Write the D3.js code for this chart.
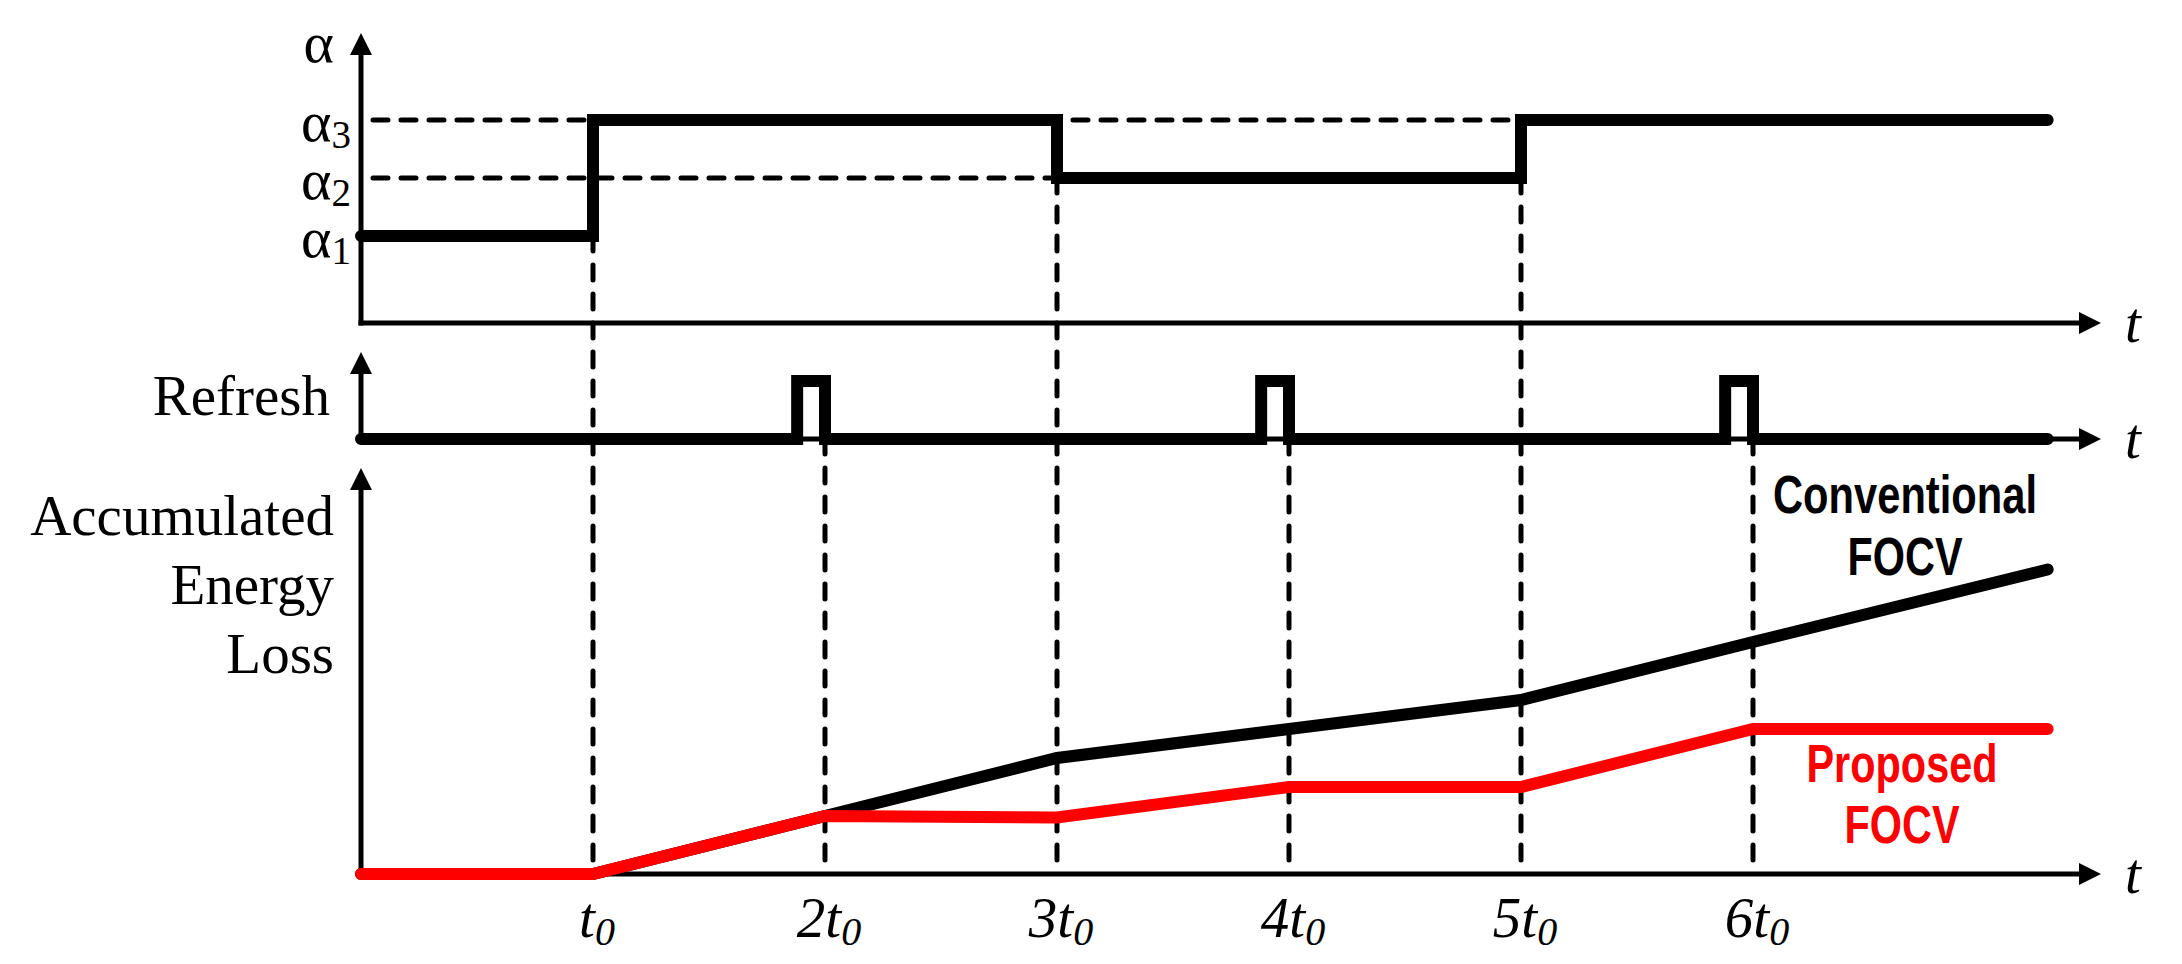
<!DOCTYPE html>
<html><head><meta charset="utf-8">
<script src="https://cdn.jsdelivr.net/npm/d3@7"></script>
<style>html,body{margin:0;padding:0;background:#fff;} svg{display:block;}</style>
</head><body>
<script>
// ---- data ----
const timeTicks = [1, 2, 3, 4, 5, 6];
const timeTickPrefix = ["", "2", "3", "4", "5", "6"];
const alphaTimes = [0, 1, 3, 5];
const alphaValues = [1.5, 3.5, 2.5, 3.5];
const signalEnd = 7.27;
const alphaLevelNames = ["1", "2", "3"];
const alphaLevels = [1.5, 2.5, 3.5];
const refreshStarts = [1.88, 3.88, 5.88];
const refreshEnds = [2.0, 4.0, 6.0];
const energyTimes = [0, 1, 2, 3, 4, 5, 6, 7.27];
const conventional = [0, 0, 2, 4, 5, 6, 8, 10.5];
const proposed = [0, 0, 2, 1.95, 3, 3, 5, 5];
const energyLabel = ["Accumulated", "Energy", "Loss"];

// ---- layout ----
const W = 2182, H = 964;
const SERIF = "'Times New Roman','Liberation Serif',serif";
const SANS = "'Liberation Sans Narrow','Arial Narrow','Liberation Sans',Arial,sans-serif";
const svg = d3.select("body").append("svg").attr("width", W).attr("height", H);
svg.append("rect").attr("width", W).attr("height", H).attr("fill", "#fff");

const x = d3.scaleLinear().domain([0, 7.5]).range([361, 2101]);
const yA = d3.scaleLinear().domain([0, 5]).range([323, 33]);
const yR = d3.scaleLinear().domain([0, 1.5]).range([439, 352]);
const yE = d3.scaleLinear().domain([0, 14]).range([874, 468]);
const AH = 22; // arrow head size
const AX = 5, THICK = 12, DASH = 5;

const gGuides = svg.append("g");
const gAxes = svg.append("g");
const gSig = svg.append("g");
const gText = svg.append("g");

// ---- dashed guides ----
function alphaAt(t) {
  let v = alphaValues[0];
  alphaTimes.forEach((tt, i) => { if (t >= tt) v = alphaValues[i]; });
  return v;
}
timeTicks.forEach(t => {
  let top;
  if (refreshEnds.some(e => Math.abs(e - t) < 1e-6)) top = yR(0);
  else top = yA(Math.min(alphaAt(t - 1e-3), alphaAt(t + 1e-3)));
  gGuides.append("line")
    .attr("x1", x(t)).attr("x2", x(t)).attr("y1", top).attr("y2", yE(0))
    .attr("stroke", "#000").attr("stroke-width", DASH)
    .attr("stroke-dasharray", "15,14").attr("stroke-linecap", "round");
});
const lastStep = alphaTimes[alphaTimes.length - 1];
alphaLevels.filter(v => v !== alphaValues[0]).forEach(v => {
  gGuides.append("line")
    .attr("x1", x(0) + 12).attr("x2", x(lastStep)).attr("y1", yA(v)).attr("y2", yA(v))
    .attr("stroke", "#000").attr("stroke-width", DASH)
    .attr("stroke-dasharray", "15,13").attr("stroke-linecap", "round");
});

// ---- axes with arrows ----
function axisPair(yScale, yTopVal) {
  const y0 = yScale(0), yTop = yScale(yTopVal), x0 = x(0), xEnd = x(7.5);
  gAxes.append("line").attr("x1", x0).attr("x2", x0).attr("y1", y0 + AX / 2).attr("y2", yTop + AH - 2)
    .attr("stroke", "#000").attr("stroke-width", AX);
  gAxes.append("path").attr("d", `M${x0},${yTop} L${x0 - AH / 2},${yTop + AH} L${x0 + AH / 2},${yTop + AH} Z`).attr("fill", "#000");
  gAxes.append("line").attr("x1", x0 - AX / 2).attr("x2", xEnd - AH + 2).attr("y1", y0).attr("y2", y0)
    .attr("stroke", "#000").attr("stroke-width", AX);
  gAxes.append("path").attr("d", `M${xEnd},${y0} L${xEnd - AH},${y0 - AH / 2} L${xEnd - AH},${y0 + AH / 2} Z`).attr("fill", "#000");
  gText.append("text").attr("x", xEnd + 24).attr("y", y0 + 19)
    .attr("font-family", SERIF).attr("font-style", "italic").attr("font-size", 57).text("t");
}
axisPair(yA, 5);
axisPair(yR, 1.5);
axisPair(yE, 14);

// ---- alpha step signal ----
const alphaPts = alphaTimes.map((t, i) => [t, alphaValues[i]]).concat([[signalEnd, alphaValues[alphaValues.length - 1]]]);
gSig.append("path")
  .attr("d", d3.line().x(d => x(d[0])).y(d => yA(d[1])).curve(d3.curveStepAfter)(alphaPts))
  .attr("fill", "none").attr("stroke", "#000").attr("stroke-width", THICK)
  .attr("stroke-linecap", "round").attr("stroke-linejoin", "miter");

// ---- refresh pulses ----
let rPts = [[0, 0]];
refreshStarts.forEach((s, i) => { rPts.push([s, 0], [s, 1], [refreshEnds[i], 1], [refreshEnds[i], 0]); });
rPts.push([signalEnd, 0]);
gSig.append("path")
  .attr("d", d3.line().x(d => x(d[0])).y(d => yR(d[1]))(rPts))
  .attr("fill", "none").attr("stroke", "#000").attr("stroke-width", THICK)
  .attr("stroke-linecap", "round").attr("stroke-linejoin", "miter");

// ---- energy lines ----
const eLine = d3.line().x(d => x(d[0])).y(d => yE(d[1]));
gSig.append("path").attr("d", eLine(energyTimes.map((t, i) => [t, conventional[i]])))
  .attr("fill", "none").attr("stroke", "#000").attr("stroke-width", THICK)
  .attr("stroke-linecap", "round").attr("stroke-linejoin", "miter");
gSig.append("path").attr("d", eLine(energyTimes.map((t, i) => [t, proposed[i]])))
  .attr("fill", "none").attr("stroke", "#ff0000").attr("stroke-width", THICK)
  .attr("stroke-linecap", "round").attr("stroke-linejoin", "miter");

// ---- labels ----
// alpha axis title
gText.append("text").attr("x", x(0) - 27).attr("y", yA(5) + 29).attr("text-anchor", "end")
  .attr("font-family", SERIF).attr("font-size", 58).text("α");
alphaLevels.forEach((v, i) => {
  const t = gText.append("text").attr("x", x(0) - 10).attr("y", yA(v) + 21).attr("text-anchor", "end")
    .attr("font-family", SERIF).attr("font-size", 58);
  t.append("tspan").text("α");
  t.append("tspan").attr("font-size", 39).attr("dy", 7).text(alphaLevelNames[i]);
});
gText.append("text").attr("x", x(0) - 31).attr("y", yR(0) - 24).attr("text-anchor", "end")
  .attr("font-family", SERIF).attr("font-size", 57).text("Refresh");
energyLabel.forEach((s, i) => {
  gText.append("text").attr("x", x(0) - 27).attr("y", 535 + i * 69).attr("text-anchor", "end")
    .attr("font-family", SERIF).attr("font-size", 57).text(s);
});
// time tick labels
timeTicks.forEach((t, i) => {
  const tx = gText.append("text").attr("x", x(t) + 4).attr("y", yE(0) + 63).attr("text-anchor", "middle")
    .attr("font-family", SERIF).attr("font-style", "italic").attr("font-size", 57);
  tx.append("tspan").text(timeTickPrefix[i] + "t");
  tx.append("tspan").attr("font-size", 40).attr("dy", 8).text("0");
});
// series labels
function seriesLabel(lines, cx, baselines, color, widths) {
  lines.forEach((s, i) => {
    gText.append("text").attr("x", cx).attr("y", baselines[i]).attr("text-anchor", "middle")
      .attr("font-family", SANS).attr("font-weight", "bold").attr("font-size", 53)
      .attr("textLength", widths[i]).attr("lengthAdjust", "spacingAndGlyphs")
      .attr("fill", color).text(s);
  });
}
seriesLabel(["Conventional", "FOCV"], 1905, [513, 575], "#000", [264, 115]);
seriesLabel(["Proposed", "FOCV"], 1902, [782, 843], "#ff0000", [191, 115]);
</script>
</body></html>
